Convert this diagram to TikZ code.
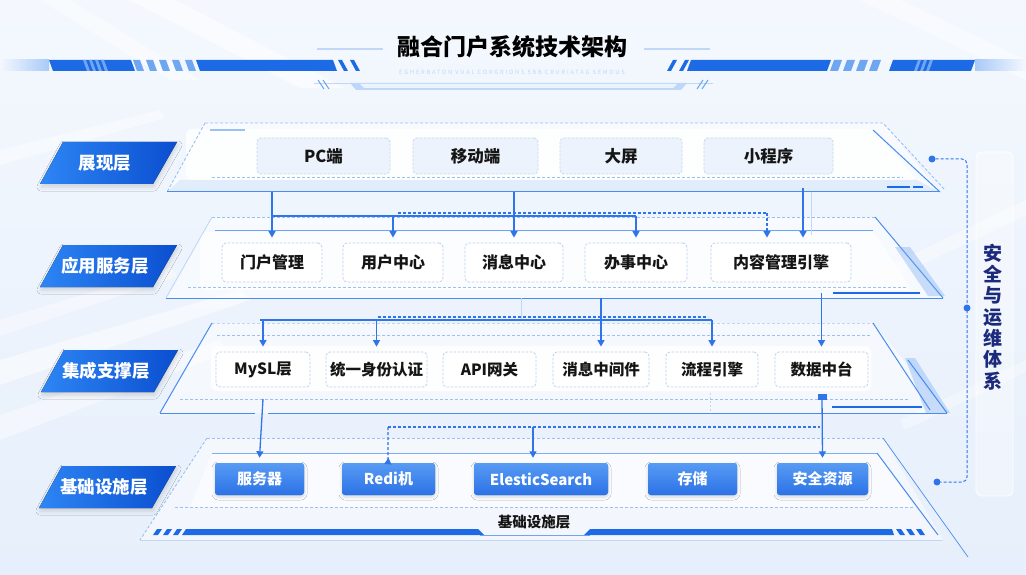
\documentclass[tikz,border=0pt]{standalone}
\usepackage{fontspec}
\setmainfont{Noto Sans CJK SC}
\usetikzlibrary{arrows.meta,shadows.blur}
\definecolor{bgtop}{HTML}{F4F8FE}
\definecolor{bgbot}{HTML}{E6EFFB}
\definecolor{lblue}{HTML}{2F74E8}
\definecolor{edgeb}{HTML}{4A8BEF}
\definecolor{dashc}{HTML}{9CC0F2}
\definecolor{faint}{HTML}{C2D7F5}
\definecolor{labA}{HTML}{2E86F4}
\definecolor{labB}{HTML}{0A4ED0}
\definecolor{boxAfill}{HTML}{EDF3FC}
\definecolor{boxAdraw}{HTML}{C3D7F3}
\definecolor{boxBdraw}{HTML}{B7CFF2}
\definecolor{bbA}{HTML}{579BF4}
\definecolor{bbB}{HTML}{2C72E6}
\definecolor{navy}{HTML}{1B2A7A}
\definecolor{txt}{HTML}{151515}
\definecolor{barb}{HTML}{1D6AE6}
\definecolor{barl}{HTML}{6FA6F2}
\tikzset{
 conn/.style={draw=lblue, line width=1.3pt, -{Triangle[width=7pt,length=6.5pt]}},
 dconn/.style={conn, dash pattern=on 3pt off 2pt},
 cline/.style={draw=lblue, line width=1.3pt},
 dline/.style={cline, dash pattern=on 3pt off 2pt},
 faintline/.style={draw=faint, line width=0.9pt},
 edgeline/.style={draw=edgeb, line width=1pt},
 dashedge/.style={draw=dashc, line width=0.9pt, dash pattern=on 3pt off 2pt},
 labtext/.style={text=white, font=\bfseries\fontsize{17.5}{18}\selectfont, inner sep=0pt},
 boxA/.style={draw=boxAdraw, dash pattern=on 2.5pt off 1.5pt, line width=0.8pt, fill=boxAfill, rounded corners=4pt, minimum height=36pt, inner sep=0pt, text=txt, font=\bfseries\fontsize{16.5}{16.5}\selectfont},
 boxB/.style={draw=boxBdraw, dash pattern=on 2.5pt off 1.5pt, line width=0.8pt, fill=white, rounded corners=4pt, minimum height=39pt, inner sep=0pt, text=txt, font=\bfseries\fontsize{16}{16}\selectfont},
 boxC/.style={boxB, minimum height=35pt, font=\bfseries\fontsize{15.5}{16}\selectfont},
 boxD/.style={fill=bbB, top color=bbA, bottom color=bbB, rounded corners=3pt, minimum height=32pt, inner sep=0pt, text=white, font=\bfseries\fontsize{15}{15}\selectfont, blur shadow={shadow blur radius=3pt, shadow xshift=0pt, shadow yshift=-2pt, shadow opacity=15}},
 dotnode/.style={circle, fill=lblue, inner sep=0pt, minimum size=7pt},
 marker/.style={fill=lblue, inner sep=0pt, minimum width=9pt, minimum height=6pt},
}
\newcommand\layerlab[4]{%
 \fill[left color=labA, right color=labB, blur shadow={shadow blur radius=4pt, shadow xshift=1pt, shadow yshift=-3pt, shadow opacity=14}]
   (#2-42,#3-21) -- (#2+72,#3-21) -- (#2+48,#3+21) -- (#2-65,#3+21) -- cycle;
 \node[labtext] (#1) at (#2,#3) {#4};}
\begin{document}
\begin{tikzpicture}[x=1pt,y=-1pt]
\useasboundingbox (0,0) rectangle (1026,575);
% background
\fill[top color=bgtop, bottom color=bgbot] (0,0) rectangle (1026,575);
\fill[white, opacity=0.55] (130,0) -- (175,0) -- (345,88) -- (300,88) -- cycle;
\fill[white, opacity=0.45] (40,0) -- (70,0) -- (200,80) -- (170,80) -- cycle;
\fill[white, opacity=0.5] (0,360) -- (240,290) -- (250,300) -- (0,385) -- cycle;
\fill[white, opacity=0.45] (0,415) -- (220,340) -- (228,352) -- (0,440) -- cycle;
\fill[white, opacity=0.4] (0,320) -- (170,268) -- (178,276) -- (0,336) -- cycle;
\fill[white, opacity=0.4] (0,150) -- (160,110) -- (165,118) -- (0,165) -- cycle;
\fill[white, opacity=0.4] (880,270) -- (1026,200) -- (1026,215) -- (885,282) -- cycle;
\fill[white, opacity=0.35] (900,420) -- (1026,360) -- (1026,372) -- (905,430) -- cycle;
\fill[white, opacity=0.4] (860,0) -- (900,0) -- (1026,60) -- (1026,80) -- cycle;
% title area
\node[font=\bfseries\fontsize{23}{23}\selectfont, text=black] (title) at (512,47) {融合门户系统技术架构};
\draw[draw=faint, line width=1.2pt] (317,49) -- (383,49);
\draw[draw=faint, line width=1.2pt] (644,49) -- (710,49);
\node[font=\fontsize{5.8}{6}\selectfont\addfontfeature{LetterSpace=30}, text=faint] (sub) at (512,72) {EGHERBATON VUAL CORGRIONS 5BB CRURIATAG SEMOUS};
% left title bar
\fill[left color=bgtop, right color=barl!60] (0,60) rectangle (49,71);
\fill[barb] (49,60) -- (131,60) -- (135,71) -- (53,71) -- cycle;
\foreach \x in {83,89,95,101} \fill[barl] (\x,60) -- (\x+3,60) -- (\x+7,71) -- (\x+4,71) -- cycle;
\foreach \x in {133,146,159,172,185} \fill[barl] (\x,60) -- (\x+7,60) -- (\x+11,71) -- (\x+4,71) -- cycle;
\fill[barb] (196,60) -- (333,60) -- (337,71) -- (200,71) -- cycle;
\fill[barb] (338,60) -- (342,60) -- (348,71) -- (344,71) -- cycle;
\fill[barb] (350,60) -- (354,60) -- (360,71) -- (356,71) -- cycle;
% right title bar
\fill[barb] (673,60) -- (677,60) -- (671,71) -- (667,71) -- cycle;
\fill[barb] (685,60) -- (689,60) -- (683,71) -- (679,71) -- cycle;
\fill[barb] (691,60) -- (831,60) -- (827,71) -- (687,71) -- cycle;
\foreach \x in {834,847,860,873} \fill[barl] (\x,60) -- (\x+8,60) -- (\x+4,71) -- (\x-4,71) -- cycle;
\fill[barb] (893,60) -- (975,60) -- (971,71) -- (889,71) -- cycle;
\foreach \x in {918,924,930} \fill[barl] (\x,60) -- (\x+3,60) -- (\x-1,71) -- (\x-4,71) -- cycle;
\fill[left color=barl!60, right color=bgtop] (975,60) rectangle (1026,71);
% tray under title
\draw[draw=faint, line width=0.8pt] (314,83) -- (713,83);
\fill[barl!45] (350,83) -- (687,83) -- (681,90) -- (356,90) -- cycle;
\fill[white, opacity=0.7] (360,84) -- (677,84) -- (673,88) -- (364,88) -- cycle;
\draw[draw=barl, line width=1pt] (318,80) -- (324,89) (323,80) -- (329,89);
\draw[draw=barl, line width=1pt] (703,80) -- (697,89) (708,80) -- (702,89);

% ===== Layer 1 =====
\fill[white, opacity=0.5] (205,123) -- (883,123) -- (940,192) -- (167,192) -- cycle;
\fill[white, opacity=0.85, rounded corners=6pt] (186,129) -- (873,129) -- (917,180) -- (186,180) -- cycle;
\fill[barl, opacity=0.15] (180,180) -- (917,180) -- (940,192) -- (167,192) -- cycle;
\draw[dashedge] (205,123) -- (883,123) -- (945,190);
\draw[dashedge] (205,123) -- (167,192);
\draw[edgeline] (167,192) -- (940,192);
\draw[edgeline] (873,130) -- (940,192);
\draw[dashedge] (212,177) -- (903,177);
\draw[draw=barl!70, line width=2.5pt] (210,130) -- (245,130);
\draw[draw=barb, line width=2pt] (887,187) -- (910,187) (913,187) -- (923,187);
\node[boxA, minimum width=133pt] (pc) at (323.5,156) {PC端};
\node[boxA, minimum width=125pt] (yd) at (475.5,156) {移动端};
\node[boxA, minimum width=122pt] (dp) at (621,156) {大屏};
\node[boxA, minimum width=129pt] (xcx) at (768.5,156) {小程序};

% ===== Layer 2 =====
\fill[white, opacity=0.5] (212,217) -- (875,217) -- (943,298) -- (166,298) -- cycle;
\fill[white, opacity=0.7, rounded corners=5pt] (200,232) -- (874,232) -- (912,290) -- (200,290) -- cycle;
\draw[dashedge] (212,217) -- (875,217);
\draw[draw=faint, line width=0.9pt] (212,217) -- (166,298);
\draw[draw=edgeb!80, line width=1pt] (215,230) -- (873,230);
\draw[edgeline] (875,217) -- (943,298);
\draw[edgeline] (166,298) -- (943,298);
\draw[dashedge] (188,287) -- (907,287);
\fill[barl, opacity=0.35] (895,247) -- (910,247) -- (945,296) -- (928,296) -- cycle;
\draw[draw=barb, line width=2.5pt] (833,293) -- (920,293);
\node[boxB, minimum width=100pt] (mh) at (272,262.5) {门户管理};
\node[boxB, minimum width=100pt] (yh) at (393,262.5) {用户中心};
\node[boxB, minimum width=98pt] (xx) at (514,262.5) {消息中心};
\node[boxB, minimum width=102pt] (bs) at (636,262.5) {办事中心};
\node[boxB, minimum width=140pt] (nr) at (781,262.5) {内容管理引擎};

% ===== Layer 3 =====
\fill[white, opacity=0.5] (212,323) -- (873,323) -- (947,413) -- (160,413) -- cycle;
\fill[white, opacity=0.9, rounded corners=6pt] (211,346) rectangle (871,391);
\draw[draw=faint, line width=0.9pt, dash pattern=on 3pt off 2pt] (212,323) -- (873,323);
\draw[dashedge] (217,335) -- (870,335);
\draw[edgeline] (212,323) -- (160,413);
\fill[barl, opacity=0.35] (905,358) -- (915,358) -- (950,413) -- (926,413) -- cycle;
\draw[edgeline] (873,323) -- (930,410);
\draw[edgeline] (908,360) -- (947,413);
\draw[edgeline] (160,413) -- (255,413) (268,413) -- (947,413);
\draw[dashedge] (180,399) -- (910,399);
\draw[draw=barb, line width=2.5pt] (832,407) -- (922,407);
\node[boxC, minimum width=94pt] (my) at (263,369.5) {MySL层};
\node[boxC, minimum width=101pt] (ty) at (376.5,369.5) {统一身份认证};
\node[boxC, minimum width=93pt] (api) at (489.5,369.5) {API网关};
\node[boxC, minimum width=96pt] (xj) at (601,369.5) {消息中间件};
\node[boxC, minimum width=92pt] (lc) at (712,369.5) {流程引擎};
\node[boxC, minimum width=93pt] (sj) at (821.5,369.5) {数据中台};

% ===== Layer 4 =====
\fill[white, opacity=0.5] (207,438) -- (883,438) -- (943,540) -- (140,540) -- cycle;
\fill[white, opacity=0.5] (212,453) -- (877,453) -- (915,507) -- (190,507) -- cycle;
\draw[dashedge] (207,438) -- (883,438);
\draw[dashedge] (207,438) -- (140,540);
\draw[draw=edgeb!70, line width=1pt] (212,453) -- (877,453);
\draw[edgeline] (877,453) -- (938,535);
\draw[draw=edgeb, line width=0.7pt] (883,438) -- (968,557);
\draw[dashedge] (175,507) -- (913,507);
\draw[draw=faint, line width=0.9pt] (140,540) -- (943,540);
\foreach \x in {153,163,173} \fill[barb] (\x+4,529) -- (\x+9,529) -- (\x+5,535) -- (\x,535) -- cycle;
\fill[barb] (186,529) -- (478,529) -- (484,535) -- (182,535) -- cycle;
\draw[draw=barl, line width=1pt] (480,535) -- (590,535);
\fill[barb] (590,529) -- (892,529) -- (894,535) -- (584,535) -- cycle;
\foreach \x in {896,906,916} \fill[barb] (\x,529) -- (\x+5,529) -- (\x+9,535) -- (\x+4,535) -- cycle;
\node[font=\bfseries\fontsize{14.5}{15}\selectfont, text=txt] (jc) at (534,522) {基础设施层};
\node[boxD, minimum width=89pt] (fw) at (259.5,479) {服务器};
\node[boxD, minimum width=93pt] (rd) at (388.5,479) {Redi机};
\node[boxD, minimum width=134pt] (es) at (541,479) {ElesticSearch};
\node[boxD, minimum width=89pt] (cc) at (692.5,479) {存储};
\node[boxD, minimum width=91pt] (aq) at (822.5,479) {安全资源};

% ===== layer labels =====
\layerlab{l1}{105}{163}{展现层}
\layerlab{l2}{105}{266}{应用服务层}
\layerlab{l3}{106}{371}{集成支撑层}
\layerlab{l4}{104}{487}{基础设施层}

% ===== connectors =====
\coordinate (L1b) at (0,192);
\coordinate (L1c) at (0,188);
\coordinate (j1) at (272,216);
\coordinate (j2) at (398,213);
\coordinate (nrA) at ([xshift=-14pt]nr.north);
\coordinate (nrB) at ([xshift=22pt]nr.north);
\draw[faintline] (811,192) -- (811,235);
\draw[conn] (L1b -| mh.north) -- ([yshift=5pt]mh.north);
\draw[cline] (j1) -- (j1 -| bs.north);
\draw[conn] (j1 -| yh.north) -- ([yshift=5pt]yh.north);
\draw[conn] (j1 -| bs.north) -- ([yshift=5pt]bs.north);
\draw[conn] (L1b -| xx.north) -- ([yshift=5pt]xx.north);
\draw[dline] (j2) -- (j2 -| nrA);
\draw[dconn] (j2 -| nrA) -- ([yshift=5pt]nrA);
\draw[conn] (L1c -| nrB) -- ([yshift=5pt]nrB);

\coordinate (L2b) at (0,298);
\coordinate (L2c) at (0,293);
\coordinate (j3) at (260,320);
\coordinate (j4) at (378,317);
\coordinate (j4e) at (708,317);
\draw[faintline] (521,298) -- (521,320);
\draw[conn] (L2b -| xj.north) -- ([yshift=5pt]xj.north);
\draw[cline] (j3) -- (j3 -| lc.north);
\draw[conn] (j3 -| my.north) -- ([yshift=5pt]my.north);
\draw[conn] (j3 -| ty.north) -- ([yshift=5pt]ty.north);
\draw[conn] (j3 -| lc.north) -- ([yshift=5pt]lc.north);
\draw[dline] (j4) -- (j4e);
\draw[conn] (L2c -| sj.north) -- ([yshift=5pt]sj.north);

\coordinate (L3d) at (0,399);
\coordinate (j5) at (388,427);
\coordinate (j5e) at (820,427);
\coordinate (esA) at ([xshift=-8pt]es.north);
\draw[draw=faint, line width=0.8pt, dash pattern=on 2pt off 2pt] (710,393) -- (710,413);
\draw[conn] (L3d -| my.south) -- ([yshift=5pt]fw.north);
\draw[dline] (j5) -- (j5e);
\draw[dconn] (j5) -- (j5 |- rd.north) -- ([yshift=5pt]rd.north);
\draw[conn] (esA |- j5) -- ([yshift=5pt]esA);
\node[marker] (mk) at (822,397) {};
\draw[conn] (mk) -- ([yshift=5pt]aq.north);

% ===== security & ops =====
\fill[white, opacity=0.35, rounded corners=6pt] (976,152) rectangle (1013,496);
\draw[draw=white, line width=0.8pt, rounded corners=6pt] (976,152) rectangle (1013,496);
\node[dotnode] (d1) at (932,159) {};
\node[dotnode] (d2) at (967,308) {};
\node[dotnode] (d3) at (937,482) {};
\draw[draw=lblue, line width=1pt, dash pattern=on 3pt off 2pt, rounded corners=5pt] (d1) -- (d1 -| d2) -- (d3 -| d2) -- (d3);
\node[text=navy, align=center, font=\bfseries\fontsize{19}{21.3}\selectfont, inner sep=0pt] (sec) at (993,317) {安\\全\\与\\运\\维\\体\\系};
\end{tikzpicture}
\end{document}
